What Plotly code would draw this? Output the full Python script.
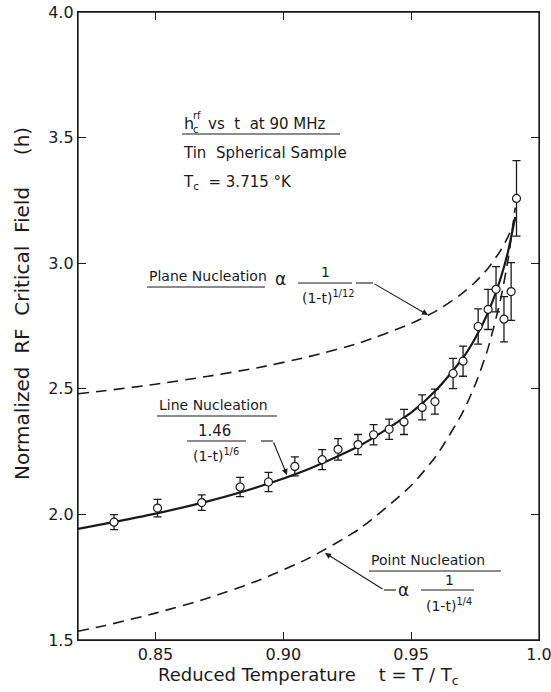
import plotly.graph_objects as go

# ---------------- data ----------------
t_data = [0.8338, 0.8508, 0.8681, 0.8831, 0.8942, 0.9045, 0.9152, 0.9214, 0.9292,
          0.9353, 0.9414, 0.9472, 0.9543, 0.9593, 0.9664, 0.9703, 0.9762, 0.9801,
          0.9832, 0.9863, 0.9891, 0.9912]
h_data = [1.969, 2.025, 2.047, 2.109, 2.129, 2.191, 2.218, 2.259, 2.278,
          2.317, 2.339, 2.368, 2.426, 2.449, 2.561, 2.610, 2.748, 2.816,
          2.896, 2.777, 2.887, 3.258]
h_err = [0.030, 0.035, 0.031, 0.038, 0.038, 0.038, 0.040, 0.043, 0.040,
         0.040, 0.040, 0.050, 0.050, 0.050, 0.060, 0.060, 0.070, 0.080,
         0.090, 0.090, 0.115, 0.150]

t_curve = [0.8197, 0.83, 0.85, 0.87, 0.89, 0.91, 0.93, 0.95, 0.96, 0.97,
           0.975, 0.98, 0.985, 0.988, 0.9907]
line_nucl = [1.942, 1.962, 2.003, 2.051, 2.109, 2.181, 2.274, 2.405, 2.497, 2.619,
             2.700, 2.802, 2.940, 3.051, 3.184]
plane_nucl = [2.480, 2.492, 2.518, 2.549, 2.584, 2.628, 2.683, 2.760, 2.811, 2.880,
              2.924, 2.979, 3.051, 3.108, 3.175]
point_nucl = [1.535, 1.557, 1.607, 1.665, 1.736, 1.826, 1.944, 2.115, 2.236, 2.403,
              2.515, 2.659, 2.857, 3.021, 3.221]

x_ticks = [0.85, 0.90, 0.95, 1.0]
x_ticktext = ["0.85", "0.90", "0.95", "1.0"]
y_ticks = [1.5, 2.0, 2.5, 3.0, 3.5, 4.0]
y_ticktext = ["1.5", "2.0", "2.5", "3.0", "3.5", "4.0"]

# ---------------- styling ----------------
FONT = "DejaVu Sans"
INK = "#1a1a1a"
W, H = 551, 692
# plot area in page pixels: x 78..539, y 12..640
ML, MT = 78, 12
MR = W - 539
MB = H - 640
PW, PH = W - ML - MR, H - MT - MB

def P(px, py):
    return dict(x=(px - ML) / PW, y=(H - MB - py) / PH, xref="paper", yref="paper")

fig = go.Figure()

dash_style = dict(color=INK, width=1.6, dash="11px,7px", shape="spline", smoothing=0.6)
fig.add_trace(go.Scatter(x=t_curve, y=plane_nucl, mode="lines", line=dash_style,
                         hoverinfo="skip", showlegend=False))
fig.add_trace(go.Scatter(x=t_curve, y=point_nucl, mode="lines", line=dash_style,
                         hoverinfo="skip", showlegend=False))
fig.add_trace(go.Scatter(x=t_curve, y=line_nucl, mode="lines",
                         line=dict(color=INK, width=2.2, shape="spline", smoothing=0.6),
                         hoverinfo="skip", showlegend=False))
fig.add_trace(go.Scatter(
    x=t_data, y=h_data, mode="markers",
    marker=dict(symbol="circle", size=8, color="white", line=dict(color=INK, width=1.2)),
    error_y=dict(type="data", array=h_err, color=INK, thickness=1.3, width=4),
    showlegend=False))

ann = []
shapes = []

def txt(s, px, py, size=15, xanchor="center", angle=0):
    d = dict(text=s, showarrow=False, font=dict(size=size, family=FONT, color=INK),
             xanchor=xanchor, yanchor="middle", textangle=angle)
    d.update(P(px, py))
    ann.append(d)

def seg(x0, y0, x1, y1, w=1.2):
    a, b = P(x0, y0), P(x1, y1)
    shapes.append(dict(type="line", xref="paper", yref="paper", x0=a["x"], y0=a["y"],
                       x1=b["x"], y1=b["y"], line=dict(color=INK, width=w)))

def arrow(hx, hy, tx, ty):
    d = dict(text="", showarrow=True, arrowhead=2, arrowsize=1.1, arrowwidth=1.1,
             arrowcolor=INK, axref="pixel", ayref="pixel", ax=tx - hx, ay=ty - hy)
    d.update(P(hx, hy))
    ann.append(d)

# plot frame
shapes.append(dict(type="rect", xref="paper", yref="paper", x0=0, y0=0, x1=1, y1=1,
                   line=dict(color=INK, width=1.3), layer="above"))

# header block
txt("h", 182, 124, 16, "left")
txt("rf", 191, 116, 10, "left")
txt("c", 191, 130, 10, "left")
txt("vs\u00a0\u00a0t\u00a0\u00a0at 90 MHz", 206, 124, 15, "left")
seg(182, 134, 340, 134)
txt("Tin\u00a0\u00a0Spherical\u00a0Sample", 181, 153, 15, "left")
txt("T<sub>c</sub>\u00a0\u00a0=\u00a03.715 \u00b0K", 181, 182, 15, "left")

# plane nucleation
txt("Plane\u00a0Nucleation", 147, 276, 14, "left")
seg(147, 287, 265, 287)
txt("\u03b1", 280, 279, 17)
txt("1", 325, 272, 14)
seg(298, 283, 352, 283)
txt("(1-t)<sup>1/12</sup>", 328, 297, 14)
seg(356, 283, 373, 283, 1.1)
arrow(428, 315, 373, 283)

# line nucleation
txt("Line\u00a0Nucleation", 157, 405, 14, "left")
seg(157, 416, 277, 416)
txt("1.46", 214, 431, 15)
seg(187, 441, 246, 441)
txt("(1-t)<sup>1/6</sup>", 216, 455, 14)
seg(261, 441, 273, 441, 1.1)
arrow(287, 475, 273, 441)

# point nucleation
txt("Point\u00a0Nucleation", 369, 560, 14, "left")
seg(369, 571, 501, 571)
txt("\u03b1", 403, 590, 17)
txt("1", 449, 580, 14)
seg(421, 590, 474, 590)
txt("(1-t)<sup>1/4</sup>", 449, 605, 14)
seg(384, 590, 396, 590, 1.1)
arrow(325, 553, 384, 590)

# axis titles
txt("Reduced\u00a0Temperature\u00a0\u00a0\u00a0\u00a0t\u00a0=\u00a0T\u00a0/\u00a0T<sub>c</sub>", 308, 676, 18)
txt("Normalized\u00a0\u00a0RF\u00a0\u00a0Critical\u00a0\u00a0Field"
    "\u00a0\u00a0\u00a0\u00a0\u00a0(h)", 22, 304, 20, angle=-90)

axis_common = dict(showgrid=False, zeroline=False, showline=True, linecolor=INK, linewidth=1.3,
                   ticks="inside", ticklen=8, tickwidth=1.2, tickcolor=INK, mirror="ticks",
                   automargin=False, ticklabeloverflow="allow",
                   tickfont=dict(family=FONT, size=16, color=INK))

fig.update_layout(
    width=W, height=H,
    margin=dict(l=ML, r=MR, t=MT, b=MB, autoexpand=False),
    paper_bgcolor="white", plot_bgcolor="white",
    xaxis=dict(range=[0.8197, 1.0], tickvals=x_ticks, ticktext=x_ticktext, **axis_common),
    yaxis=dict(range=[1.5, 4.0], tickvals=y_ticks, ticktext=y_ticktext, **axis_common),
    annotations=ann, shapes=shapes, showlegend=False,
)

fig.write_html(
    "out.html",
    config={"displayModeBar": False},
    post_script="document.documentElement.style.margin='0';"
                "document.body.style.margin='0';document.body.style.overflow='hidden';",
)
